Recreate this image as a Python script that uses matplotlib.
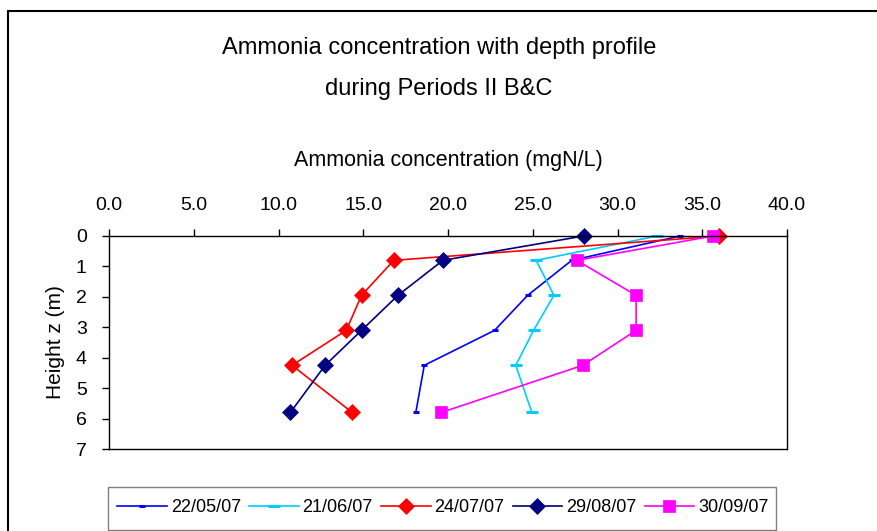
import matplotlib
matplotlib.use("Agg")
import matplotlib.pyplot as plt
from matplotlib.patches import Rectangle

plt.rcParams['font.family'] = ['Liberation Sans', 'DejaVu Sans']

# sampling heights (m) and ammonia concentration (mgN/L) per sampling date
depth = [0, 0.8, 1.95, 3.1, 4.25, 5.8]
dates = ['22/05/07', '21/06/07', '24/07/07', '29/08/07', '30/09/07']
nh3_2205 = [33.7, 27.3, 24.7, 22.75, 18.6, 18.1]
nh3_2106 = [32.35, 25.2, 26.25, 25.05, 24.0, 24.95]
nh3_2407 = [36.0, 16.8, 14.9, 14.0, 10.8, 14.35]
nh3_2908 = [28.0, 19.7, 17.05, 14.9, 12.75, 10.7]
nh3_3009 = [35.65, 27.6, 31.1, 31.1, 27.95, 19.6]

series = [nh3_2205, nh3_2106, nh3_2407, nh3_2908, nh3_3009]
colors = ['#0000FF', '#00CCFF', '#FF0000', '#000080', '#FF00FF']
markers = ['_', '_', 'D', 'D', 's']
msizes = [5, 9, 8.5, 8.5, 8]
medges = [2.2, 2.2, 0.5, 0.5, 0.5]

fig = plt.figure(figsize=(8.78, 5.31), dpi=100)
ax = fig.add_axes([109/878, 1 - 449/531, (787 - 109)/878, (449 - 236)/531])

for vals, c, m, ms, mew, lab in zip(series, colors, markers, msizes, medges, dates):
    ax.plot(vals, depth, color=c, lw=1.2, marker=m, markersize=ms,
            markeredgewidth=mew, markerfacecolor=c, markeredgecolor=c,
            label=lab, clip_on=False)

ax.set_xlim(0, 40)
ax.set_ylim(7, 0)
ax.set_xticks(range(0, 41, 5))
ax.set_xticklabels(['%.1f' % v for v in range(0, 41, 5)])
ax.set_yticks(range(0, 8))
ax.xaxis.tick_top()
ax.xaxis.set_label_position('top')
ax.tick_params(axis='x', direction='out', length=5, width=1, labelsize=14, pad=11)
ax.tick_params(axis='y', direction='out', length=5, width=1, labelsize=14, pad=11)
for s in ax.spines.values():
    s.set_linewidth(1)
ax.set_xlabel('Ammonia concentration (mgN/L)', fontsize=15.5, labelpad=22)
ax.set_ylabel('Height z (m)', fontsize=15, labelpad=8)

fig.text(0.5, 1 - 54/531, 'Ammonia concentration with depth profile',
         ha='center', va='baseline', fontsize=17)
fig.text(0.5, 1 - 95/531, 'during Periods II B&C',
         ha='center', va='baseline', fontsize=17)

# legend entries in a row, inside a wider grey box
fig.patches.append(Rectangle((108/878, 1 - 530/531), (776 - 108)/878, 43/531,
                             transform=fig.transFigure, fill=False,
                             edgecolor='#808080', lw=1))
fig.legend(loc='center left', ncol=5, fontsize=13, frameon=False,
           bbox_to_anchor=(117/878, 1 - 508/531), borderaxespad=0, borderpad=0,
           handlelength=2.75, handletextpad=0.22, columnspacing=0.45)

# outer chart border
fig.patches.append(Rectangle((8/878, -0.1), 1.2, 1 - 11/531 + 0.1,
                             transform=fig.transFigure, fill=False,
                             edgecolor='black', lw=1.5))

fig.savefig('out.png', dpi=100)
